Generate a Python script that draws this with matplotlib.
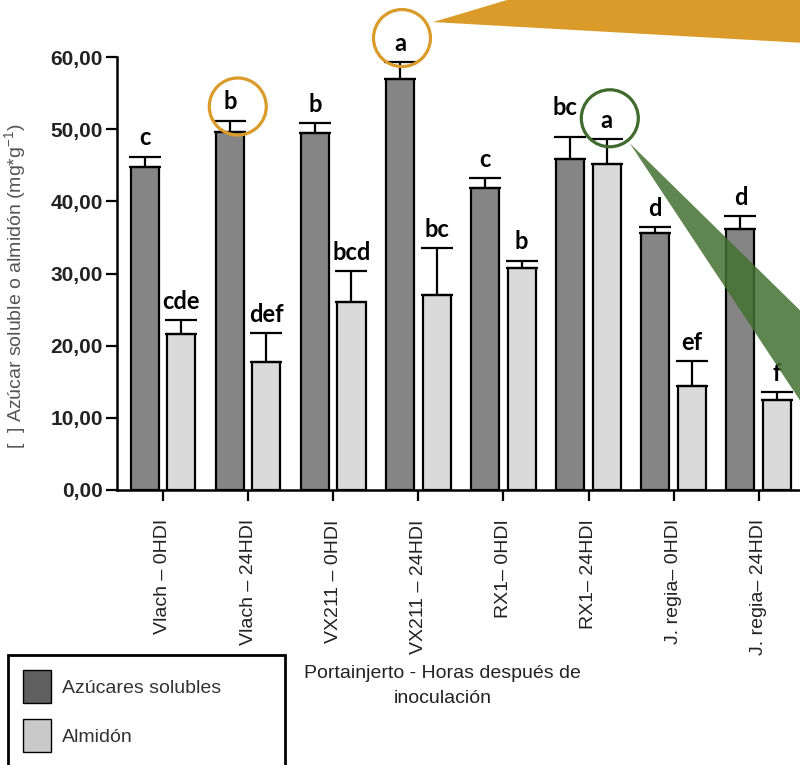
import matplotlib
matplotlib.use("Agg")
import matplotlib.pyplot as plt
import numpy as np
from matplotlib.patches import Patch, Ellipse, Polygon
from matplotlib.transforms import IdentityTransform

plt.rcParams['font.family'] = ['Liberation Sans', 'DejaVu Sans']
plt.rcParams['mathtext.fontset'] = 'custom'
plt.rcParams['mathtext.rm'] = 'Liberation Sans'

# datos
grupos = ["Vlach – 0HDI", "Vlach – 24HDI", "VX211 – 0HDI", "VX211 – 24HDI",
          "RX1– 0HDI", "RX1– 24HDI", "J. regia– 0HDI", "J. regia– 24HDI"]
azucares = [44.8, 49.6, 49.5, 57.0, 41.8, 45.9, 35.6, 36.1]
azucares_err = [1.4, 1.6, 1.4, 2.3, 1.4, 3.0, 0.8, 1.8]
azucares_letras = ["c", "b", "b", "a", "c", "bc", "d", "d"]
almidon = [21.6, 17.8, 26.1, 27.0, 30.7, 45.2, 14.4, 12.5]
almidon_err = [2.0, 3.9, 4.3, 6.5, 1.1, 3.4, 3.5, 1.1]
almidon_letras = ["cde", "def", "bcd", "bc", "b", "a", "ef", "f"]

oscuro = "#858585"
claro = "#dadada"

W, H = 800, 765
fig = plt.figure(figsize=(W / 100, H / 100), dpi=100)
ax = fig.add_axes([117 / W, 1 - 490 / H, (W - 117) / W, (490 - 57) / H])

x = np.arange(len(grupos))
ancho = 0.33
off = 0.215

ax.bar(x - off, azucares, ancho, color=oscuro, edgecolor="black", linewidth=1.6,
       yerr=[np.zeros(len(x)), azucares_err],
       error_kw=dict(capsize=11.5, elinewidth=1.6, capthick=1.6, ecolor="black"))
ax.bar(x + off, almidon, ancho, color=claro, edgecolor="black", linewidth=1.6,
       yerr=[np.zeros(len(x)), almidon_err],
       error_kw=dict(capsize=11.5, elinewidth=1.6, capthick=1.6, ecolor="black"))

for serie, xs, vals, errs, letras in [(0, x - off, azucares, azucares_err, azucares_letras),
                                      (1, x + off, almidon, almidon_err, almidon_letras)]:
    for i, (xi, v, e, l) in enumerate(zip(xs, vals, errs, letras)):
        dx, dy = 0, 8
        if serie == 0 and i == 5:  # "bc" movida para no chocar con el círculo
            dx, dy = -4, 16
        ax.annotate(l, (xi, v + e), xytext=(dx, dy), textcoords="offset points",
                    ha="center", va="baseline", fontsize=17, fontweight="bold",
                    family="Lato", color="black", zorder=5)

ax.set_xlim(-0.54, 7.485)
ax.set_ylim(0, 60)
ax.set_yticks(np.arange(0, 61, 10))
ax.set_yticklabels([f"{v:.2f}".replace(".", ",") for v in np.arange(0, 61, 10)],
                   fontsize=15, fontweight="bold", color="#222222")
ax.set_xticks(x)
ax.set_xticklabels(grupos, rotation=90, fontsize=14, color="#222222")
ax.tick_params(axis="y", length=8, width=1.6, pad=2)
ax.tick_params(axis="x", length=8, width=1.6, pad=13)
for s in ["top", "right"]:
    ax.spines[s].set_visible(False)
for s in ["left", "bottom"]:
    ax.spines[s].set_linewidth(1.8)

ax.set_ylabel("[  ] Azúcar soluble o almidón (mg*g$^{\\mathregular{-1}}$)",
              fontsize=14, color="#555555")
ax.yaxis.set_label_coords(-0.129, 0.471)
ax.set_xlabel("Portainjerto - Horas después de\ninoculación", fontsize=14,
              color="#222222", va="center", linespacing=1.6)
ax.xaxis.set_label_coords(0.477, -0.453)

leg = fig.legend([Patch(facecolor="#5f5f5f", edgecolor="black", lw=1),
                  Patch(facecolor="#c9c9c9", edgecolor="black", lw=1)],
                 ["Azúcares solubles", "Almidón"], loc="upper left",
                 bbox_to_anchor=(8 / W, 1 - 655 / H, 277 / W, 0), mode="expand",
                 fontsize=14, handlelength=1.44, handleheight=2.3,
                 labelspacing=0.78, borderpad=0.75, handletextpad=0.6,
                 fancybox=False, framealpha=1, borderaxespad=0)
leg.get_frame().set_edgecolor("black")
leg.get_frame().set_linewidth(2)
for t in leg.get_texts():
    t.set_color("#333333")

# circulos y cuñas de resaltado (pixeles)
def centro(xd, yd, dx, dy):
    px, py = ax.transData.transform((xd, yd))
    return px + dx, py + dy

naranja = "#db9b2a"
verde_borde = "#3f6b2e"
c1 = centro(1 - off, azucares[1] + azucares_err[1], 8, 14)
c2 = centro(3 - off, azucares[3] + azucares_err[3], 2, 24)
c3 = centro(5 + off, almidon[5] + almidon_err[5], 3, 21)

for c, col in [(c1, naranja), (c2, naranja), (c3, verde_borde)]:
    fig.add_artist(Ellipse(c, 57, 57, transform=IdentityTransform(), fill=False,
                           edgecolor=col, linewidth=2.3, zorder=10))

a2 = (c2[0] + 31, c2[1] + 16)
fig.add_artist(Polygon([a2, (a2[0] + 444, a2[1] + 132), (a2[0] + 444, a2[1] - 25)],
                       closed=True, transform=IdentityTransform(), facecolor=naranja,
                       edgecolor="none", zorder=10))
a3 = (c3[0] + 20, c3[1] - 25)
fig.add_artist(Polygon([a3, (a3[0] + 270, a3[1] - 265), (a3[0] + 270, a3[1] - 408)],
                       closed=True, transform=IdentityTransform(), facecolor="#437131",
                       alpha=0.85, edgecolor="none", zorder=10))

fig.savefig("out.png", dpi=100)
